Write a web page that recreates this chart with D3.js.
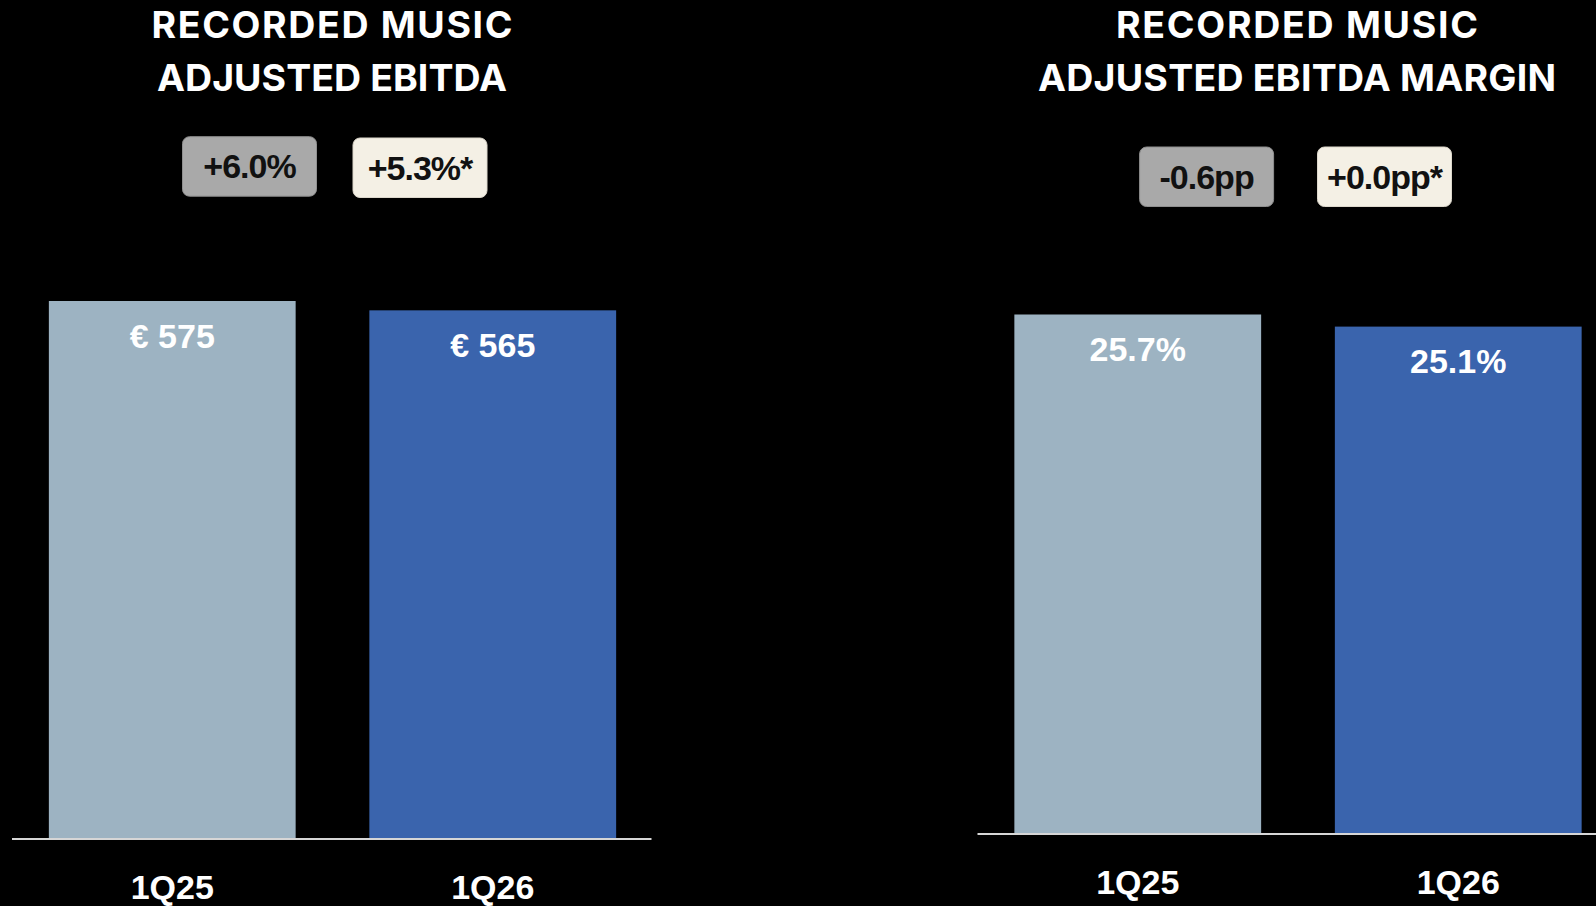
<!DOCTYPE html>
<html>
<head>
<meta charset="utf-8">
<script src="https://cdn.jsdelivr.net/npm/d3@7"></script>
<style>
  html, body { margin: 0; padding: 0; background: #000; }
  svg { display: block; }
</style>
</head>
<body>
<svg id="chart" width="1596" height="906"></svg>
<script>
// Quarters shown on both panels
const categories = ["1Q25", "1Q26"];

// Recorded Music adjusted EBITDA (€ millions)
const ebitdaValues = [575, 565];
// Recorded Music adjusted EBITDA margin (%)
const marginValues = [25.7, 25.1];

// Year-on-year change badges: reported, then constant currency (*)
const ebitdaChanges = ["+6.0%", "+5.3%*"];
const marginChanges = ["-0.6pp", "+0.0pp*"];

// Panel headings (two lines each)
const ebitdaTitle = ["RECORDED MUSIC", "ADJUSTED EBITDA"];
const marginTitle = ["RECORDED MUSIC", "ADJUSTED EBITDA MARGIN"];

const barColors = ["#9db3c2", "#3a64ad"];
const badgeFills = ["#a9a9a9", "#f4f0e5"];
const badgeStrokes = ["#8f8f8f", "#ddd8cc"];

const svg = d3.select("#chart");
svg.append("rect").attr("width", 1596).attr("height", 906).attr("fill", "#000");

const panels = [
  {
    title: ebitdaTitle, titleX: 332, titleWidths: [361, 350],
    values: ebitdaValues, fmt: v => "€ " + v,
    changes: ebitdaChanges,
    xRange: [12, 653], axisEnd: 651.5,
    yDomain: [0, 575], yRange: [838, 301],
    badges: [{ cx: 249.5, y: 136.7 }, { cx: 420, y: 138 }]
  },
  {
    title: marginTitle, titleX: 1297, titleWidths: [362, 518],
    values: marginValues, fmt: v => v.toFixed(1) + "%",
    changes: marginChanges,
    xRange: [977.5, 1618.5], axisEnd: 1596,
    yDomain: [0, 25.7], yRange: [833, 314.5],
    badges: [{ cx: 1206.6, y: 147 }, { cx: 1384.5, y: 147 }]
  }
];

const labelFont = "'Liberation Sans', Arial, Helvetica, sans-serif";
const titleFont = "Inter, 'Open Sans', sans-serif";

panels.forEach(p => {
  const g = svg.append("g");

  // Heading
  p.title.forEach((line, i) => {
    g.append("text")
      .attr("x", p.titleX)
      .attr("y", 37.5 + i * 53.5)
      .attr("text-anchor", "middle")
      .attr("fill", "#fff")
      .attr("font-family", titleFont)
      .attr("font-weight", 700)
      .attr("font-size", 37.5)
      .attr("textLength", p.titleWidths[i])
      .attr("lengthAdjust", "spacing")
      .text(line);
  });

  // Change badges
  const bw = 134, bh = 59.5;
  const badge = g.selectAll("g.badge").data(p.changes).join("g").attr("class", "badge");
  badge.append("rect")
    .attr("x", (d, i) => p.badges[i].cx - bw / 2)
    .attr("y", (d, i) => p.badges[i].y)
    .attr("width", bw).attr("height", bh)
    .attr("rx", 7).attr("ry", 7)
    .attr("fill", (d, i) => badgeFills[i])
    .attr("stroke", (d, i) => badgeStrokes[i])
    .attr("stroke-width", 1);
  badge.append("text")
    .attr("x", (d, i) => p.badges[i].cx)
    .attr("y", (d, i) => p.badges[i].y + bh / 2 + 12)
    .attr("text-anchor", "middle")
    .attr("fill", "#111")
    .attr("font-family", labelFont)
    .attr("font-weight", 700)
    .attr("font-size", 34)
    .attr("letter-spacing", -1)
    .text(d => d);

  // Scales
  const x = d3.scaleBand().domain(categories).range(p.xRange)
    .paddingInner(0.23).paddingOuter(0.115);
  const y = d3.scaleLinear().domain(p.yDomain).range(p.yRange);

  // Bars
  g.selectAll("rect.bar").data(p.values).join("rect")
    .attr("class", "bar")
    .attr("x", (d, i) => x(categories[i]))
    .attr("y", d => y(d))
    .attr("width", x.bandwidth())
    .attr("height", d => y(0) - y(d))
    .attr("fill", (d, i) => barColors[i]);

  // Value labels inside the bar tops
  g.selectAll("text.val").data(p.values).join("text")
    .attr("class", "val")
    .attr("x", (d, i) => x(categories[i]) + x.bandwidth() / 2)
    .attr("y", d => y(d) + 46.5)
    .attr("text-anchor", "middle")
    .attr("fill", "#fff")
    .attr("font-family", labelFont)
    .attr("font-weight", 700)
    .attr("font-size", 34)
    .text(d => p.fmt(d));

  // Category axis with baseline rule
  const axis = d3.axisBottom(x).tickSize(0).tickPadding(36);
  const ax = g.append("g")
    .attr("transform", `translate(0,${y(0) + 1})`)
    .call(axis);
  ax.select(".domain").remove();
  ax.append("line")
    .attr("x1", p.xRange[0]).attr("x2", p.axisEnd)
    .attr("y1", 0).attr("y2", 0)
    .attr("stroke", "#d6d6d6").attr("stroke-width", 2);
  ax.selectAll(".tick text")
    .attr("fill", "#fff")
    .attr("font-family", labelFont)
    .attr("font-weight", 700)
    .attr("font-size", 34);
});
</script>
</body>
</html>
